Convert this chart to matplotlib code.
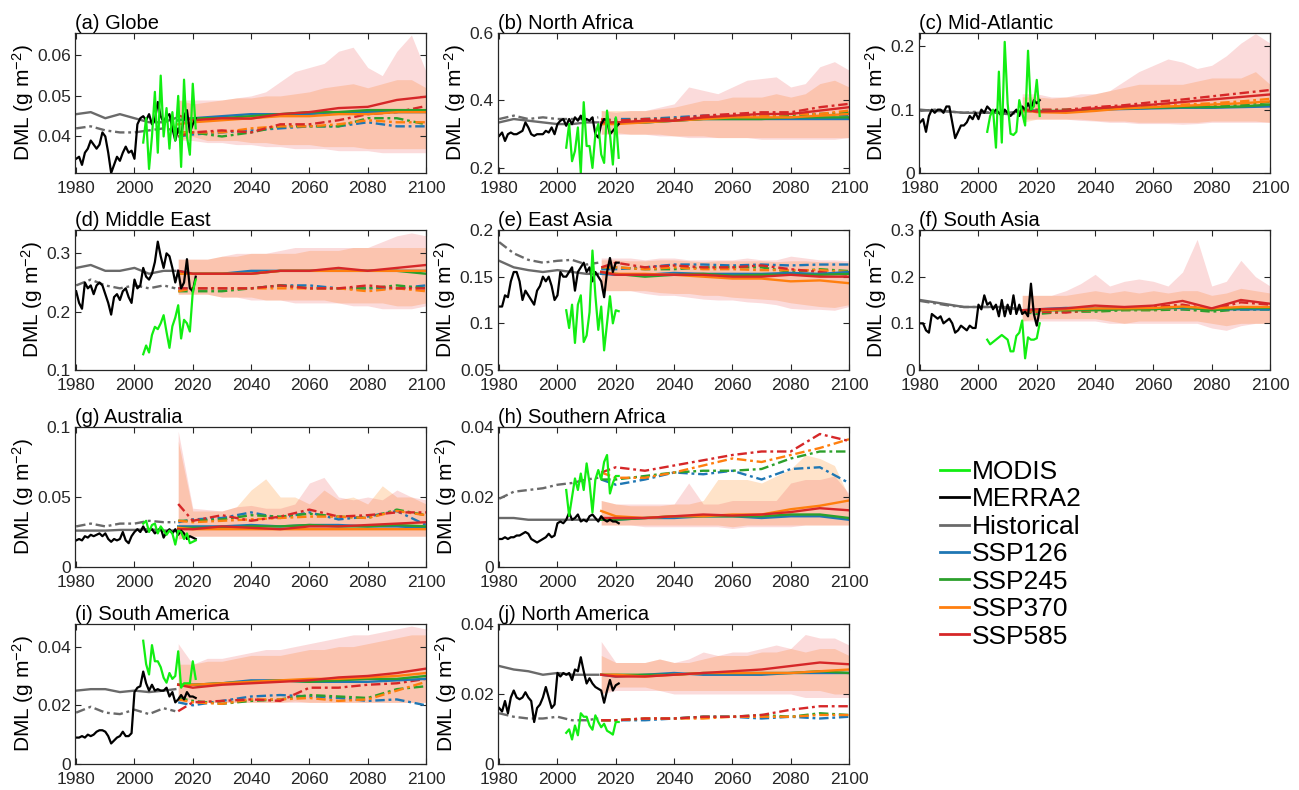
import numpy as np
import matplotlib
matplotlib.use("Agg")
import matplotlib.pyplot as plt
from matplotlib.lines import Line2D
from matplotlib.ticker import FuncFormatter

plt.rcParams['font.family'] = ['Liberation Sans', 'DejaVu Sans']
plt.rcParams['mathtext.default'] = 'regular'

# ---- data ----
titles = ["(a) Globe", "(b) North Africa", "(c) Mid-Atlantic", "(d) Middle East",
          "(e) East Asia", "(f) South Asia", "(g) Australia", "(h) Southern Africa",
          "(i) South America", "(j) North America"]

merra2_years = np.arange(1980, 2022)
modis_years = np.arange(2003, 2022)
hist_years = [1980, 1985, 1990, 1995, 2000, 2005, 2010, 2014]
ssp_years = [2015, 2020, 2030, 2040, 2050, 2060, 2070, 2080, 2090, 2100]
band_years = np.arange(2015, 2101, 5)

merra2 = [
    [0.0345, 0.035, 0.033, 0.036, 0.037, 0.039, 0.038, 0.037, 0.038, 0.041,
     0.040, 0.036, 0.031, 0.033, 0.035, 0.034, 0.036, 0.0375, 0.036, 0.0365,
     0.0345, 0.043, 0.0445, 0.045, 0.044, 0.0455, 0.043, 0.044, 0.0485, 0.045,
     0.0435, 0.045, 0.0455, 0.042, 0.039, 0.042, 0.040, 0.045, 0.0465, 0.041,
     0.043, 0.0445],
    [0.295, 0.305, 0.28, 0.30, 0.305, 0.30, 0.30, 0.305, 0.31, 0.335,
     0.32, 0.30, 0.295, 0.30, 0.30, 0.30, 0.31, 0.305, 0.32, 0.30,
     0.33, 0.34, 0.345, 0.325, 0.345, 0.33, 0.35, 0.34, 0.355, 0.335,
     0.345, 0.34, 0.35, 0.30, 0.29, 0.33, 0.345, 0.34, 0.30, 0.31,
     0.32, 0.33],
    [0.08, 0.085, 0.065, 0.09, 0.10, 0.095, 0.10, 0.10, 0.095, 0.105,
     0.105, 0.08, 0.055, 0.065, 0.075, 0.075, 0.08, 0.09, 0.085, 0.095,
     0.085, 0.10, 0.095, 0.105, 0.10, 0.095, 0.10, 0.095, 0.09, 0.10,
     0.095, 0.09, 0.095, 0.10, 0.09, 0.105, 0.10, 0.11, 0.10, 0.115,
     0.11, 0.115],
    [0.235, 0.215, 0.205, 0.25, 0.24, 0.245, 0.23, 0.245, 0.25, 0.245,
     0.23, 0.215, 0.195, 0.225, 0.23, 0.22, 0.235, 0.24, 0.225, 0.215,
     0.255, 0.24, 0.245, 0.275, 0.26, 0.255, 0.265, 0.285, 0.32, 0.295,
     0.275, 0.30, 0.295, 0.275, 0.25, 0.27, 0.24, 0.25, 0.29, 0.24,
     0.235, 0.26],
    [0.118, 0.118, 0.13, 0.128, 0.145, 0.155, 0.155, 0.145, 0.125, 0.135,
     0.13, 0.125, 0.12, 0.135, 0.14, 0.15, 0.145, 0.15, 0.14, 0.125,
     0.13, 0.155, 0.15, 0.15, 0.155, 0.16, 0.135, 0.155, 0.16, 0.165,
     0.155, 0.16, 0.145, 0.155, 0.15, 0.145, 0.128, 0.155, 0.17, 0.155,
     0.165, 0.165],
    [0.10, 0.10, 0.085, 0.08, 0.12, 0.115, 0.11, 0.115, 0.10, 0.105,
     0.11, 0.10, 0.08, 0.085, 0.095, 0.09, 0.085, 0.095, 0.09, 0.09,
     0.14, 0.13, 0.16, 0.14, 0.145, 0.13, 0.14, 0.115, 0.15, 0.115,
     0.14, 0.12, 0.16, 0.12, 0.14, 0.12, 0.125, 0.115, 0.185, 0.12,
     0.095, 0.13],
    [0.019, 0.02, 0.019, 0.022, 0.021, 0.023, 0.022, 0.023, 0.024, 0.022,
     0.024, 0.02, 0.018, 0.02, 0.019, 0.02, 0.025, 0.019, 0.017, 0.022,
     0.025, 0.027, 0.025, 0.029, 0.025, 0.026, 0.027, 0.024, 0.026, 0.028,
     0.021, 0.025, 0.027, 0.024, 0.027, 0.023, 0.026, 0.024, 0.020, 0.022,
     0.021, 0.020],
    [0.008, 0.008, 0.0085, 0.008, 0.0085, 0.0085, 0.009, 0.009, 0.0095, 0.01,
     0.0095, 0.008, 0.0075, 0.007, 0.0075, 0.008, 0.0085, 0.0095, 0.0085, 0.009,
     0.0125, 0.013, 0.0125, 0.0135, 0.0155, 0.0135, 0.014, 0.015, 0.013, 0.0135,
     0.013, 0.0145, 0.015, 0.014, 0.013, 0.0145, 0.0135, 0.013, 0.0135, 0.013,
     0.013, 0.0125],
    [0.009, 0.009, 0.0095, 0.009, 0.01, 0.0095, 0.01, 0.011, 0.0115, 0.0115,
     0.011, 0.0095, 0.007, 0.008, 0.009, 0.0095, 0.011, 0.0095, 0.0095, 0.0105,
     0.0245, 0.026, 0.0265, 0.0315, 0.0275, 0.025, 0.027, 0.025, 0.0255, 0.025,
     0.025, 0.026, 0.023, 0.0245, 0.021, 0.022, 0.0235, 0.022, 0.0245, 0.023,
     0.023, 0.0225],
    [0.016, 0.015, 0.018, 0.0145, 0.019, 0.021, 0.019, 0.0185, 0.019, 0.0205,
     0.019, 0.018, 0.012, 0.016, 0.017, 0.019, 0.022, 0.019, 0.016, 0.017,
     0.026, 0.025, 0.026, 0.0255, 0.026, 0.024, 0.027, 0.0265, 0.0305, 0.0265,
     0.023, 0.0245, 0.023, 0.022, 0.0215, 0.021, 0.0175, 0.021, 0.024, 0.021,
     0.0225, 0.023],
]

modis = [
    [0.0385, 0.0445, 0.032, 0.040, 0.051, 0.036, 0.055, 0.040, 0.047, 0.037,
     0.046, 0.039, 0.050, 0.0325, 0.054, 0.040, 0.0355, 0.053, 0.042],
    [0.26, 0.33, 0.22, 0.25, 0.32, 0.185, 0.395, 0.265, 0.265, 0.20,
     0.30, 0.33, 0.24, 0.215, 0.37, 0.30, 0.21, 0.35, 0.23],
    [0.065, 0.09, 0.10, 0.04, 0.16, 0.048, 0.207, 0.11, 0.062, 0.06,
     0.065, 0.115, 0.095, 0.075, 0.193, 0.10, 0.105, 0.147, 0.09],
    [0.127, 0.142, 0.13, 0.16, 0.174, 0.17, 0.18, 0.194, 0.165, 0.138,
     0.175, 0.19, 0.211, 0.154, 0.186, 0.18, 0.166, 0.234, 0.255],
    [0.114, 0.095, 0.12, 0.079, 0.12, 0.13, 0.08, 0.087, 0.112, 0.178,
     0.13, 0.093, 0.118, 0.071, 0.10, 0.129, 0.10, 0.114, 0.113],
    [0.065, 0.055, 0.06, 0.065, 0.07, 0.075, 0.07, 0.065, 0.04, 0.04,
     0.073, 0.08, 0.106, 0.025, 0.07, 0.065, 0.065, 0.068, 0.10],
    [0.031, 0.033, 0.025, 0.030, 0.031, 0.024, 0.029, 0.026, 0.023, 0.026,
     0.024, 0.016, 0.026, 0.025, 0.020, 0.024, 0.017, 0.018, 0.019],
    [0.022, 0.0146, 0.020, 0.0253, 0.022, 0.0267, 0.022, 0.0296, 0.024, 0.0156,
     0.025, 0.0277, 0.025, 0.030, 0.032, 0.021, 0.024, 0.026, 0.026],
    [0.042, 0.034, 0.0305, 0.0405, 0.035, 0.035, 0.033, 0.0294, 0.0277, 0.031,
     0.029, 0.030, 0.0384, 0.026, 0.0275, 0.0275, 0.0275, 0.035, 0.029],
    [0.0089, 0.0099, 0.007, 0.011, 0.0082, 0.0145, 0.0135, 0.0135, 0.011, 0.0098,
     0.0139, 0.012, 0.0105, 0.0115, 0.0095, 0.009, 0.0084, 0.012, 0.012],
]

hist_solid = [
    [0.0455, 0.046, 0.0445, 0.0455, 0.0445, 0.0435, 0.0435, 0.0445],
    [0.335, 0.345, 0.34, 0.335, 0.33, 0.33, 0.335, 0.335],
    [0.10, 0.098, 0.097, 0.095, 0.095, 0.095, 0.095, 0.097],
    [0.275, 0.28, 0.27, 0.27, 0.275, 0.265, 0.27, 0.27],
    [0.167, 0.16, 0.157, 0.155, 0.157, 0.155, 0.153, 0.153],
    [0.15, 0.145, 0.14, 0.135, 0.135, 0.135, 0.135, 0.13],
    [0.026, 0.026, 0.026, 0.0265, 0.0265, 0.027, 0.026, 0.026],
    [0.014, 0.014, 0.0135, 0.0135, 0.0135, 0.0135, 0.0135, 0.0135],
    [0.025, 0.0255, 0.0255, 0.0245, 0.025, 0.0245, 0.025, 0.0255],
    [0.028, 0.027, 0.0265, 0.0255, 0.026, 0.0255, 0.0255, 0.0255],
]
hist_dash = [
    [0.042, 0.0425, 0.0415, 0.041, 0.041, 0.0415, 0.042, 0.0415],
    [0.345, 0.355, 0.345, 0.35, 0.345, 0.345, 0.345, 0.35],
    [0.098, 0.100, 0.097, 0.095, 0.097, 0.095, 0.093, 0.095],
    [0.245, 0.255, 0.245, 0.24, 0.245, 0.24, 0.245, 0.24],
    [0.187, 0.175, 0.168, 0.165, 0.167, 0.168, 0.163, 0.165],
    [0.148, 0.143, 0.138, 0.135, 0.135, 0.135, 0.133, 0.13],
    [0.029, 0.031, 0.029, 0.031, 0.031, 0.033, 0.032, 0.032],
    [0.0195, 0.0215, 0.022, 0.0225, 0.0235, 0.024, 0.025, 0.0255],
    [0.0175, 0.0195, 0.0175, 0.017, 0.0185, 0.017, 0.019, 0.018],
    [0.0145, 0.0135, 0.013, 0.013, 0.0135, 0.0125, 0.0125, 0.013],
]

ssp126_solid = [
    [0.044, 0.0445, 0.045, 0.0455, 0.0455, 0.0455, 0.046, 0.046, 0.046, 0.046],
    [0.33, 0.335, 0.335, 0.34, 0.345, 0.345, 0.345, 0.345, 0.345, 0.345],
    [0.10, 0.098, 0.097, 0.100, 0.101, 0.102, 0.103, 0.103, 0.104, 0.105],
    [0.27, 0.265, 0.265, 0.27, 0.27, 0.27, 0.27, 0.27, 0.27, 0.27],
    [0.153, 0.152, 0.152, 0.154, 0.153, 0.153, 0.153, 0.154, 0.153, 0.155],
    [0.128, 0.13, 0.133, 0.132, 0.133, 0.132, 0.133, 0.13, 0.13, 0.13],
    [0.029, 0.029, 0.029, 0.030, 0.029, 0.030, 0.030, 0.029, 0.029, 0.028],
    [0.0135, 0.0135, 0.014, 0.014, 0.0145, 0.0145, 0.014, 0.0145, 0.0145, 0.0135],
    [0.027, 0.027, 0.0275, 0.0285, 0.0285, 0.028, 0.028, 0.028, 0.0285, 0.029],
    [0.0255, 0.025, 0.0255, 0.026, 0.0255, 0.0255, 0.0255, 0.026, 0.026, 0.026],
]
ssp245_solid = [
    [0.044, 0.0445, 0.0445, 0.045, 0.0455, 0.046, 0.046, 0.0465, 0.0465, 0.0465],
    [0.33, 0.335, 0.335, 0.34, 0.345, 0.345, 0.345, 0.35, 0.35, 0.35],
    [0.10, 0.098, 0.098, 0.10, 0.102, 0.103, 0.104, 0.104, 0.105, 0.108],
    [0.265, 0.265, 0.265, 0.265, 0.27, 0.27, 0.27, 0.27, 0.27, 0.265],
    [0.155, 0.153, 0.150, 0.152, 0.153, 0.151, 0.152, 0.152, 0.152, 0.153],
    [0.128, 0.128, 0.128, 0.128, 0.13, 0.13, 0.135, 0.128, 0.133, 0.133],
    [0.028, 0.028, 0.028, 0.029, 0.029, 0.030, 0.029, 0.029, 0.030, 0.029],
    [0.0135, 0.0135, 0.014, 0.0145, 0.0145, 0.0145, 0.0145, 0.015, 0.015, 0.014],
    [0.027, 0.027, 0.0275, 0.028, 0.0285, 0.028, 0.0285, 0.029, 0.029, 0.030],
    [0.0255, 0.0255, 0.0255, 0.0255, 0.026, 0.026, 0.026, 0.026, 0.0265, 0.026],
]
ssp370_solid = [
    [0.043, 0.0435, 0.044, 0.0445, 0.045, 0.045, 0.0455, 0.0455, 0.046, 0.046],
    [0.33, 0.33, 0.335, 0.34, 0.345, 0.35, 0.35, 0.35, 0.355, 0.36],
    [0.10, 0.096, 0.095, 0.098, 0.102, 0.104, 0.106, 0.108, 0.110, 0.113],
    [0.265, 0.265, 0.265, 0.265, 0.27, 0.27, 0.27, 0.27, 0.27, 0.27],
    [0.155, 0.153, 0.153, 0.152, 0.150, 0.148, 0.148, 0.145, 0.146, 0.143],
    [0.128, 0.128, 0.13, 0.132, 0.132, 0.133, 0.136, 0.132, 0.135, 0.135],
    [0.028, 0.027, 0.027, 0.027, 0.027, 0.027, 0.027, 0.027, 0.027, 0.027],
    [0.016, 0.0145, 0.014, 0.0145, 0.0145, 0.015, 0.015, 0.0165, 0.0175, 0.019],
    [0.027, 0.027, 0.0275, 0.028, 0.0285, 0.029, 0.029, 0.0295, 0.03, 0.031],
    [0.0255, 0.0255, 0.025, 0.0255, 0.026, 0.026, 0.026, 0.026, 0.0265, 0.027],
]
ssp585_solid = [
    [0.0452, 0.044, 0.0445, 0.0444, 0.0455, 0.046, 0.047, 0.0473, 0.049, 0.0498],
    [0.335, 0.335, 0.34, 0.34, 0.35, 0.355, 0.36, 0.36, 0.37, 0.38],
    [0.10, 0.097, 0.098, 0.102, 0.105, 0.108, 0.112, 0.116, 0.120, 0.124],
    [0.27, 0.265, 0.265, 0.265, 0.27, 0.27, 0.275, 0.27, 0.275, 0.28],
    [0.155, 0.152, 0.152, 0.152, 0.152, 0.150, 0.150, 0.152, 0.150, 0.150],
    [0.128, 0.13, 0.132, 0.138, 0.135, 0.138, 0.148, 0.132, 0.15, 0.142],
    [0.027, 0.027, 0.029, 0.028, 0.027, 0.029, 0.029, 0.030, 0.031, 0.032],
    [0.014, 0.014, 0.014, 0.0145, 0.015, 0.0147, 0.015, 0.0157, 0.0168, 0.0162],
    [0.027, 0.026, 0.027, 0.0275, 0.028, 0.0285, 0.0295, 0.03, 0.031, 0.0325],
    [0.0255, 0.025, 0.025, 0.0255, 0.026, 0.0265, 0.027, 0.028, 0.029, 0.0285],
]

ssp126_dash = [
    [0.040, 0.0405, 0.041, 0.0415, 0.042, 0.0425, 0.0425, 0.0435, 0.0425, 0.0425],
    [0.34, 0.345, 0.345, 0.35, 0.355, 0.355, 0.355, 0.36, 0.36, 0.355],
    [0.098, 0.097, 0.098, 0.101, 0.102, 0.103, 0.104, 0.104, 0.105, 0.107],
    [0.24, 0.24, 0.24, 0.24, 0.245, 0.245, 0.24, 0.24, 0.24, 0.245],
    [0.158, 0.158, 0.16, 0.163, 0.163, 0.162, 0.163, 0.162, 0.163, 0.163],
    [0.125, 0.128, 0.13, 0.13, 0.132, 0.13, 0.13, 0.13, 0.13, 0.13],
    [0.032, 0.034, 0.035, 0.039, 0.035, 0.039, 0.034, 0.036, 0.040, 0.030],
    [0.025, 0.0235, 0.025, 0.027, 0.0265, 0.0275, 0.025, 0.028, 0.0285, 0.024],
    [0.021, 0.02, 0.0215, 0.023, 0.0235, 0.023, 0.0225, 0.0215, 0.022, 0.02],
    [0.0125, 0.0125, 0.0125, 0.013, 0.0135, 0.0135, 0.013, 0.0135, 0.013, 0.0135],
]
ssp245_dash = [
    [0.041, 0.041, 0.040, 0.041, 0.0425, 0.0425, 0.0425, 0.0445, 0.0445, 0.043],
    [0.34, 0.34, 0.345, 0.345, 0.35, 0.355, 0.355, 0.355, 0.36, 0.365],
    [0.098, 0.098, 0.10, 0.102, 0.104, 0.104, 0.106, 0.107, 0.108, 0.112],
    [0.235, 0.235, 0.235, 0.24, 0.245, 0.24, 0.24, 0.24, 0.245, 0.24],
    [0.16, 0.16, 0.158, 0.158, 0.16, 0.16, 0.16, 0.155, 0.158, 0.156],
    [0.125, 0.12, 0.125, 0.125, 0.128, 0.128, 0.13, 0.125, 0.13, 0.13],
    [0.033, 0.033, 0.034, 0.037, 0.036, 0.038, 0.036, 0.035, 0.041, 0.037],
    [0.025, 0.025, 0.026, 0.027, 0.0275, 0.0275, 0.028, 0.031, 0.033, 0.033],
    [0.0225, 0.0215, 0.0205, 0.0215, 0.022, 0.0235, 0.023, 0.0225, 0.0255, 0.0265],
    [0.0125, 0.0125, 0.013, 0.013, 0.0135, 0.0135, 0.014, 0.0135, 0.0145, 0.014],
]
ssp370_dash = [
    [0.041, 0.041, 0.041, 0.042, 0.0425, 0.0425, 0.043, 0.044, 0.0435, 0.0435],
    [0.34, 0.34, 0.34, 0.345, 0.35, 0.355, 0.355, 0.36, 0.36, 0.37],
    [0.098, 0.097, 0.097, 0.10, 0.104, 0.106, 0.108, 0.110, 0.113, 0.117],
    [0.235, 0.24, 0.24, 0.24, 0.24, 0.24, 0.24, 0.235, 0.24, 0.235],
    [0.16, 0.16, 0.158, 0.16, 0.158, 0.158, 0.157, 0.157, 0.157, 0.155],
    [0.125, 0.125, 0.125, 0.128, 0.13, 0.13, 0.133, 0.13, 0.135, 0.133],
    [0.033, 0.032, 0.033, 0.034, 0.035, 0.036, 0.036, 0.035, 0.040, 0.037],
    [0.027, 0.0255, 0.0255, 0.027, 0.029, 0.031, 0.030, 0.032, 0.034, 0.0365],
    [0.022, 0.021, 0.0205, 0.022, 0.022, 0.0225, 0.0215, 0.022, 0.025, 0.028],
    [0.0125, 0.0125, 0.013, 0.013, 0.013, 0.0135, 0.0135, 0.0135, 0.014, 0.014],
]
ssp585_dash = [
    [0.040, 0.041, 0.0415, 0.041, 0.043, 0.043, 0.044, 0.0455, 0.046, 0.0475],
    [0.345, 0.34, 0.345, 0.345, 0.355, 0.36, 0.365, 0.365, 0.38, 0.39],
    [0.100, 0.10, 0.10, 0.104, 0.107, 0.112, 0.116, 0.121, 0.126, 0.131],
    [0.24, 0.24, 0.24, 0.24, 0.245, 0.24, 0.24, 0.245, 0.24, 0.24],
    [0.16, 0.165, 0.16, 0.162, 0.16, 0.160, 0.162, 0.158, 0.155, 0.152],
    [0.125, 0.125, 0.123, 0.13, 0.133, 0.135, 0.14, 0.13, 0.145, 0.14],
    [0.045, 0.033, 0.037, 0.033, 0.036, 0.041, 0.036, 0.037, 0.039, 0.039],
    [0.027, 0.0285, 0.0275, 0.029, 0.0305, 0.032, 0.033, 0.033, 0.038, 0.036],
    [0.018, 0.021, 0.0215, 0.022, 0.0215, 0.026, 0.026, 0.027, 0.0275, 0.029],
    [0.0125, 0.0125, 0.013, 0.013, 0.0135, 0.0135, 0.014, 0.0155, 0.0165, 0.0165],
]

# model spread (shaded), 5-yearly
band_lo = [
    [0.039, 0.040, 0.039, 0.039, 0.039, 0.0385, 0.0385, 0.038, 0.038, 0.038, 0.0375, 0.0375, 0.0375, 0.037, 0.037, 0.037, 0.037, 0.037],
    [0.30, 0.305, 0.30, 0.30, 0.30, 0.295, 0.295, 0.295, 0.29, 0.29, 0.29, 0.29, 0.29, 0.29, 0.29, 0.29, 0.29, 0.29],
    [0.08, 0.085, 0.085, 0.085, 0.085, 0.083, 0.082, 0.082, 0.080, 0.080, 0.08, 0.08, 0.08, 0.082, 0.082, 0.082, 0.082, 0.08],
    [0.23, 0.23, 0.23, 0.225, 0.225, 0.225, 0.22, 0.22, 0.22, 0.22, 0.22, 0.215, 0.215, 0.215, 0.215, 0.21, 0.21, 0.215],
    [0.135, 0.135, 0.135, 0.135, 0.133, 0.132, 0.132, 0.13, 0.13, 0.128, 0.127, 0.126, 0.125, 0.122, 0.12, 0.118, 0.117, 0.12],
    [0.105, 0.11, 0.11, 0.11, 0.11, 0.11, 0.105, 0.10, 0.105, 0.105, 0.105, 0.105, 0.105, 0.10, 0.095, 0.10, 0.10, 0.10],
    [0.020, 0.022, 0.022, 0.022, 0.022, 0.022, 0.022, 0.022, 0.022, 0.022, 0.022, 0.022, 0.022, 0.022, 0.022, 0.022, 0.022, 0.022],
    [0.012, 0.012, 0.012, 0.012, 0.012, 0.012, 0.012, 0.012, 0.012, 0.0115, 0.012, 0.012, 0.012, 0.012, 0.012, 0.012, 0.012, 0.012],
    [0.022, 0.022, 0.021, 0.021, 0.021, 0.021, 0.021, 0.021, 0.0215, 0.021, 0.021, 0.021, 0.021, 0.021, 0.021, 0.021, 0.021, 0.021],
    [0.020, 0.022, 0.022, 0.022, 0.021, 0.021, 0.021, 0.021, 0.021, 0.021, 0.021, 0.021, 0.021, 0.021, 0.021, 0.021, 0.020, 0.020],
]
band_hi = [
    [0.049, 0.048, 0.0485, 0.049, 0.0495, 0.0495, 0.05, 0.05, 0.0505, 0.051, 0.052, 0.0525, 0.053, 0.052, 0.053, 0.054, 0.054, 0.052],
    [0.37, 0.37, 0.37, 0.37, 0.375, 0.38, 0.39, 0.40, 0.40, 0.41, 0.41, 0.41, 0.42, 0.41, 0.42, 0.45, 0.46, 0.44],
    [0.12, 0.12, 0.118, 0.12, 0.12, 0.125, 0.13, 0.135, 0.14, 0.14, 0.14, 0.14, 0.145, 0.15, 0.15, 0.15, 0.16, 0.14],
    [0.29, 0.29, 0.29, 0.295, 0.295, 0.30, 0.30, 0.30, 0.30, 0.305, 0.305, 0.305, 0.31, 0.31, 0.31, 0.31, 0.31, 0.31],
    [0.168, 0.168, 0.167, 0.167, 0.168, 0.168, 0.167, 0.166, 0.167, 0.167, 0.167, 0.167, 0.166, 0.167, 0.167, 0.166, 0.166, 0.165],
    [0.16, 0.16, 0.16, 0.16, 0.165, 0.17, 0.165, 0.17, 0.165, 0.17, 0.165, 0.17, 0.17, 0.16, 0.165, 0.175, 0.17, 0.165],
    [0.090, 0.040, 0.040, 0.040, 0.043, 0.055, 0.063, 0.050, 0.050, 0.045, 0.055, 0.048, 0.050, 0.045, 0.058, 0.050, 0.050, 0.045],
    [0.019, 0.018, 0.0175, 0.0175, 0.0175, 0.018, 0.018, 0.019, 0.025, 0.025, 0.025, 0.024, 0.026, 0.028, 0.032, 0.031, 0.029, 0.020],
    [0.034, 0.034, 0.035, 0.035, 0.036, 0.037, 0.037, 0.037, 0.038, 0.039, 0.039, 0.040, 0.040, 0.041, 0.042, 0.043, 0.044, 0.044],
    [0.031, 0.029, 0.029, 0.029, 0.030, 0.029, 0.029, 0.030, 0.031, 0.031, 0.031, 0.032, 0.032, 0.033, 0.032, 0.033, 0.033, 0.031],
]
red_lo = [
    [0.039, 0.039, 0.0385, 0.0385, 0.038, 0.038, 0.0375, 0.0375, 0.037, 0.037, 0.037, 0.0365, 0.0365, 0.0365, 0.036, 0.036, 0.036, 0.036],
    [0.30, 0.30, 0.30, 0.30, 0.295, 0.295, 0.29, 0.29, 0.29, 0.29, 0.29, 0.285, 0.285, 0.285, 0.285, 0.285, 0.285, 0.29],
    [0.085, 0.085, 0.085, 0.085, 0.083, 0.082, 0.08, 0.08, 0.078, 0.078, 0.078, 0.077, 0.078, 0.08, 0.08, 0.08, 0.08, 0.08],
    [0.23, 0.23, 0.23, 0.225, 0.225, 0.22, 0.22, 0.22, 0.215, 0.215, 0.215, 0.215, 0.21, 0.21, 0.205, 0.205, 0.205, 0.21],
    [0.135, 0.135, 0.135, 0.132, 0.13, 0.13, 0.128, 0.126, 0.125, 0.125, 0.123, 0.122, 0.12, 0.116, 0.115, 0.115, 0.114, 0.118],
    [0.105, 0.105, 0.105, 0.105, 0.105, 0.105, 0.10, 0.10, 0.10, 0.10, 0.10, 0.10, 0.10, 0.09, 0.085, 0.095, 0.10, 0.10],
    [0.020, 0.022, 0.022, 0.022, 0.022, 0.022, 0.022, 0.022, 0.022, 0.022, 0.022, 0.022, 0.022, 0.022, 0.022, 0.022, 0.022, 0.022],
    [0.012, 0.012, 0.012, 0.0115, 0.0115, 0.0115, 0.0115, 0.0115, 0.0115, 0.011, 0.0115, 0.0115, 0.0115, 0.0115, 0.012, 0.012, 0.012, 0.012],
    [0.021, 0.021, 0.021, 0.021, 0.021, 0.021, 0.021, 0.021, 0.021, 0.021, 0.021, 0.021, 0.021, 0.021, 0.021, 0.021, 0.021, 0.021],
    [0.020, 0.021, 0.021, 0.021, 0.021, 0.020, 0.020, 0.020, 0.020, 0.020, 0.020, 0.020, 0.020, 0.020, 0.019, 0.019, 0.019, 0.019],
]
red_hi = [
    [0.049, 0.049, 0.049, 0.049, 0.0495, 0.050, 0.051, 0.0535, 0.056, 0.057, 0.058, 0.061, 0.062, 0.057, 0.055, 0.061, 0.065, 0.056],
    [0.37, 0.365, 0.37, 0.37, 0.38, 0.39, 0.44, 0.43, 0.42, 0.44, 0.46, 0.465, 0.47, 0.44, 0.45, 0.50, 0.515, 0.49],
    [0.125, 0.125, 0.12, 0.12, 0.125, 0.125, 0.13, 0.145, 0.16, 0.17, 0.18, 0.175, 0.165, 0.17, 0.185, 0.205, 0.22, 0.205],
    [0.29, 0.29, 0.29, 0.295, 0.30, 0.30, 0.30, 0.305, 0.31, 0.31, 0.31, 0.31, 0.31, 0.31, 0.32, 0.33, 0.335, 0.33],
    [0.17, 0.17, 0.17, 0.168, 0.17, 0.17, 0.168, 0.168, 0.168, 0.168, 0.17, 0.168, 0.168, 0.172, 0.17, 0.168, 0.168, 0.167],
    [0.16, 0.16, 0.16, 0.17, 0.185, 0.205, 0.18, 0.19, 0.195, 0.19, 0.18, 0.21, 0.28, 0.18, 0.19, 0.235, 0.20, 0.18],
    [0.097, 0.042, 0.041, 0.040, 0.043, 0.044, 0.042, 0.042, 0.045, 0.060, 0.064, 0.050, 0.048, 0.050, 0.048, 0.055, 0.050, 0.048],
    [0.019, 0.018, 0.018, 0.018, 0.018, 0.018, 0.024, 0.018, 0.018, 0.019, 0.019, 0.019, 0.019, 0.024, 0.025, 0.025, 0.026, 0.021],
    [0.041, 0.034, 0.036, 0.036, 0.037, 0.038, 0.039, 0.039, 0.040, 0.041, 0.042, 0.043, 0.044, 0.044, 0.045, 0.046, 0.047, 0.046],
    [0.035, 0.029, 0.029, 0.029, 0.030, 0.029, 0.030, 0.032, 0.031, 0.032, 0.032, 0.033, 0.034, 0.033, 0.037, 0.036, 0.036, 0.034],
]

ylims = [(0.031, 0.0655), (0.185, 0.6), (0, 0.221), (0.1, 0.34), (0.05, 0.2),
         (0, 0.3), (0, 0.1), (0, 0.04), (0, 0.0477), (0, 0.04)]
yticks = [[0.04, 0.05, 0.06], [0.2, 0.4, 0.6], [0, 0.1, 0.2], [0.1, 0.2, 0.3],
          [0.05, 0.1, 0.15, 0.2], [0, 0.1, 0.2, 0.3], [0, 0.05, 0.1],
          [0, 0.02, 0.04], [0, 0.02, 0.04], [0, 0.02, 0.04]]

# ---- style ----
c_modis = '#12ee12'
c_merra = 'black'
c_hist = '#6a6a6a'
ssp_names = ['SSP126', 'SSP245', 'SSP370', 'SSP585']
ssp_cols = ['#1f77b4', '#2ca02c', '#ff7f0e', '#d62728']
solid_sets = [ssp126_solid, ssp245_solid, ssp370_solid, ssp585_solid]
dash_sets = [ssp126_dash, ssp245_dash, ssp370_dash, ssp585_dash]
dashdot = (0, (4, 1.6, 1.2, 1.6))

W, H = 1299, 790
fig = plt.figure(figsize=(W / 100, H / 100), dpi=100)

col_left = [75, 498, 919]
row_top = [33, 230, 427, 624]
ax_w, ax_h = 351, 140
slots = [(0, 0), (0, 1), (0, 2), (1, 0), (1, 1), (1, 2), (2, 0), (2, 1), (3, 0), (3, 1)]

fmt = FuncFormatter(lambda v, p: f"{v:g}")

for i, (r, c) in enumerate(slots):
    ax = fig.add_axes([col_left[c] / W, 1 - (row_top[r] + ax_h) / H, ax_w / W, ax_h / H])

    # spread of the model ensemble
    ax.fill_between(band_years, band_lo[i], band_hi[i], color='#ff8a1e', alpha=0.24, lw=0)
    ax.fill_between(band_years, red_lo[i], red_hi[i], color='#ee4040', alpha=0.19, lw=0)

    ax.plot(hist_years, hist_dash[i], color=c_hist, lw=1.7, ls=dashdot)
    ax.plot(hist_years, hist_solid[i], color=c_hist, lw=1.7)

    for k in range(4):
        ax.plot(ssp_years, dash_sets[k][i], color=ssp_cols[k], lw=1.7, ls=dashdot)
    for k in range(4):
        ax.plot(ssp_years, solid_sets[k][i], color=ssp_cols[k], lw=1.7)

    ax.plot(merra2_years, merra2[i], color=c_merra, lw=1.6)
    ax.plot(modis_years, modis[i], color=c_modis, lw=1.6)

    ax.set_xlim(1979.6, 2100)
    ax.set_ylim(*ylims[i])
    ax.set_xticks([1980, 2000, 2020, 2040, 2060, 2080, 2100])
    ax.set_yticks(yticks[i])
    ax.yaxis.set_major_formatter(fmt)
    ax.tick_params(direction='in', top=True, right=True, length=4, width=0.8,
                   labelsize=12.5, colors='#262626', pad=3)
    ax.tick_params(axis='x', pad=5.5)
    for s in ax.spines.values():
        s.set_color('#262626')
        s.set_linewidth(0.9)
    ax.set_ylabel('DML (g m$^{-2}$)', fontsize=15, labelpad=1)
    ax.set_title(titles[i], loc='left', fontsize=14.5, pad=3)

handles = [Line2D([], [], color=c_modis, lw=2),
           Line2D([], [], color=c_merra, lw=2),
           Line2D([], [], color=c_hist, lw=2)]
handles += [Line2D([], [], color=col, lw=2) for col in ssp_cols]
labels = ['MODIS', 'MERRA2', 'Historical'] + ssp_names
fig.legend(handles, labels, loc='upper left', bbox_to_anchor=(940 / W, 1 - 460 / H),
           frameon=False, fontsize=19, handlelength=1.1, handletextpad=0.11,
           labelspacing=0.13, borderaxespad=0, borderpad=0)

fig.savefig('out.png', dpi=100)
